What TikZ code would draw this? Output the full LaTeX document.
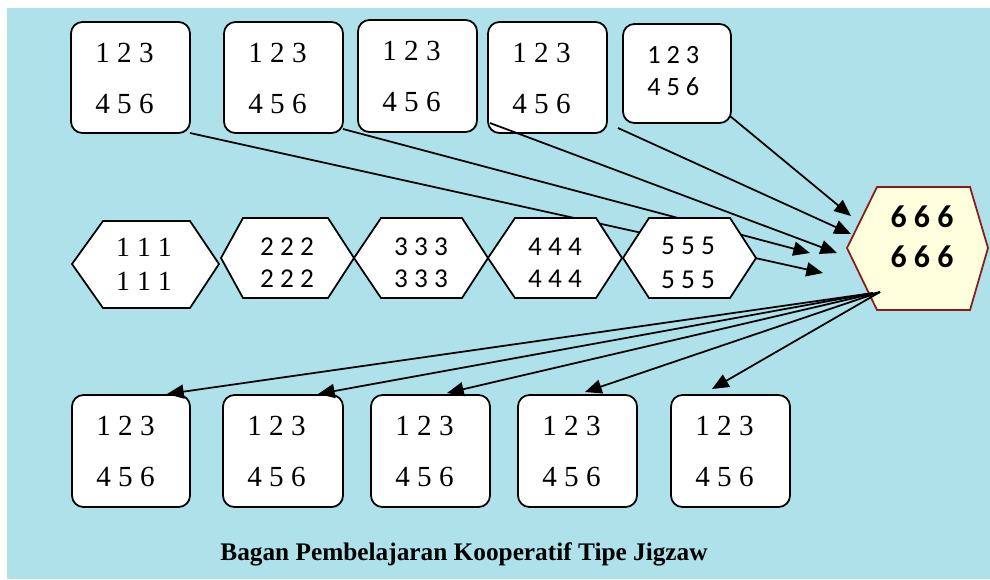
\documentclass[tikz,border=0pt]{standalone}
\usepackage{fontspec}
\setmainfont{Liberation Serif}
\newfontfamily\sansf{Carlito}
\usetikzlibrary{arrows.meta,calc}
\definecolor{bgblue}{RGB}{175,225,234}
\definecolor{hexfill}{RGB}{255,255,221}
\definecolor{hexline}{RGB}{139,26,26}
\newcommand\serifbox[5]{%
  \node[box,minimum width={(#4-#2)*0.02cm},minimum height={(#5-#3)*0.02cm}] (#1) at ({(#2+#4)/2},{(#3+#5)/2}) {};
  \node[serifnum] (#1a) at ($(#1.north west)+(24,40)$) {1 2 3};
  \node[serifnum] (#1b) at ($(#1.north west)+(24,91)$) {4 5 6};}
\begin{document}
\begin{tikzpicture}[x=0.02cm,y=-0.02cm,
  box/.style={draw=black,fill=white,line width=1pt,rounded corners=6.5pt,inner sep=0pt,outer sep=0pt},
  serifnum/.style={font=\fontsize{16.6}{18}\selectfont,inner sep=0pt,anchor=base west},
  sansnum/.style={font=\sansf\fontsize{15}{18}\selectfont,inner sep=0pt,anchor=base west},
  hexa/.style={draw=black,fill=white,line width=1pt,line join=miter},
  hexbig/.style={draw=hexline,fill=hexfill,line width=1pt},
  hexserif/.style={font=\fontsize{15.8}{18}\selectfont,inner sep=0pt,anchor=base},
  hexsans/.style={font=\sansf\fontsize{15.5}{18}\selectfont,inner sep=0pt,anchor=base},
  hexbold/.style={font=\sansf\bfseries\fontsize{18.1}{20}\selectfont,inner sep=0pt,anchor=base},
  arr/.style={draw=black,line width=1pt,-{Triangle[length=9.5pt,width=8pt]}},
  caption/.style={font=\bfseries\fontsize{14.4}{16}\selectfont,inner sep=0pt,anchor=base}
]
\useasboundingbox (0,0) rectangle (990,579);
\fill[white] (0,0) rectangle (990,579);
\fill[bgblue] (7,8) rectangle (990,579);

% top boxes
\serifbox{t1}{71}{22}{190}{133}
\serifbox{t2}{224}{22}{343}{133}
\serifbox{t3}{358}{20}{477}{132}
\serifbox{t4}{488}{22}{607}{133}
\node[box,minimum width={(731-623)*0.02cm},minimum height={(123-24)*0.02cm}] (t5) at (677,73.5) {};
\node[sansnum] (t5a) at ($(t5.north west)+(24,39)$) {1 2 3};
\node[sansnum] (t5b) at ($(t5.north west)+(24,71)$) {4 5 6};

% arrow end points near expert hexagon
\coordinate (e1) at (823,273);
\coordinate (e2) at (810,253);
\coordinate (e3) at (837,253);
\coordinate (e4) at (851,234);
\coordinate (e5) at (851,216);
\draw[arr] (t1.south east) -- (e1);
\draw[arr] ($(t2.south east)+(0,-4)$) -- (e2);
\draw[arr] ($(t4.south west)+(2,-10)$) -- (e3);
\draw[arr] ($(t5.south west)+(-5,5)$) -- (e4);
\draw[arr] ($(t5.south east)+(-1,-7)$) -- (e5);

% middle hexagons
\path[hexa] (72,264) -- (103,221) -- (190,221) -- (219,264) -- (190,308) -- (103,308) -- cycle;
\node[hexserif] (h1a) at (144,256) {1 1 1};
\node[hexserif] (h1b) at (144,290) {1 1 1};
\path[hexa] (221,258) -- (243,218) -- (328,218) -- (354,258) -- (328,298) -- (243,298) -- cycle;
\node[hexsans] (h2a) at (287,255) {2 2 2};
\node[hexsans] (h2b) at (287,287) {2 2 2};
\path[hexa] (354,258) -- (381,218) -- (462,218) -- (488,258) -- (462,298) -- (381,298) -- cycle;
\node[hexsans] (h3a) at (421,255) {3 3 3};
\node[hexsans] (h3b) at (421,287) {3 3 3};
\path[hexa] (488,258) -- (515,218) -- (596,218) -- (622,258) -- (596,298) -- (515,298) -- cycle;
\node[hexsans] (h4a) at (555,255) {4 4 4};
\node[hexsans] (h4b) at (555,287) {4 4 4};
\path[hexa] (623,258) -- (649,218) -- (730,218) -- (756,258) -- (730,298) -- (649,298) -- cycle;
\node[hexsans] (h5a) at (688,254) {5 5 5};
\node[hexsans] (h5b) at (688,288) {5 5 5};

% expert hexagon
\path[hexbig] (847,248) -- (877,187) -- (970,187) -- (988,248) -- (970,310) -- (877,310) -- cycle;
\node[hexbold] (h6a) at (922,227) {6 6 6};
\node[hexbold] (h6b) at (922,267) {6 6 6};

% bottom boxes
\serifbox{b1}{72}{395}{190}{507}
\serifbox{b2}{223}{395}{343}{507}
\serifbox{b3}{371}{395}{490}{507}
\serifbox{b4}{518}{395}{637}{507}
\serifbox{b5}{671}{395}{790}{507}

\coordinate (s1) at (873,293);
\coordinate (s2) at (880,292);
\coordinate (f1) at (167,394);
\coordinate (f2) at (318,394);
\coordinate (f3) at (447,393);
\coordinate (f4) at (585,392);
\coordinate (f5) at (712,389);
\draw[arr] (s1) -- (f1);
\draw[arr] (s1) -- (f2);
\draw[arr] (s2) -- (f3);
\draw[arr] (s2) -- (f4);
\draw[arr] (s2) -- (f5);

\node[caption] (cap) at (464,560) {Bagan Pembelajaran Kooperatif Tipe Jigzaw};
\end{tikzpicture}
\end{document}
